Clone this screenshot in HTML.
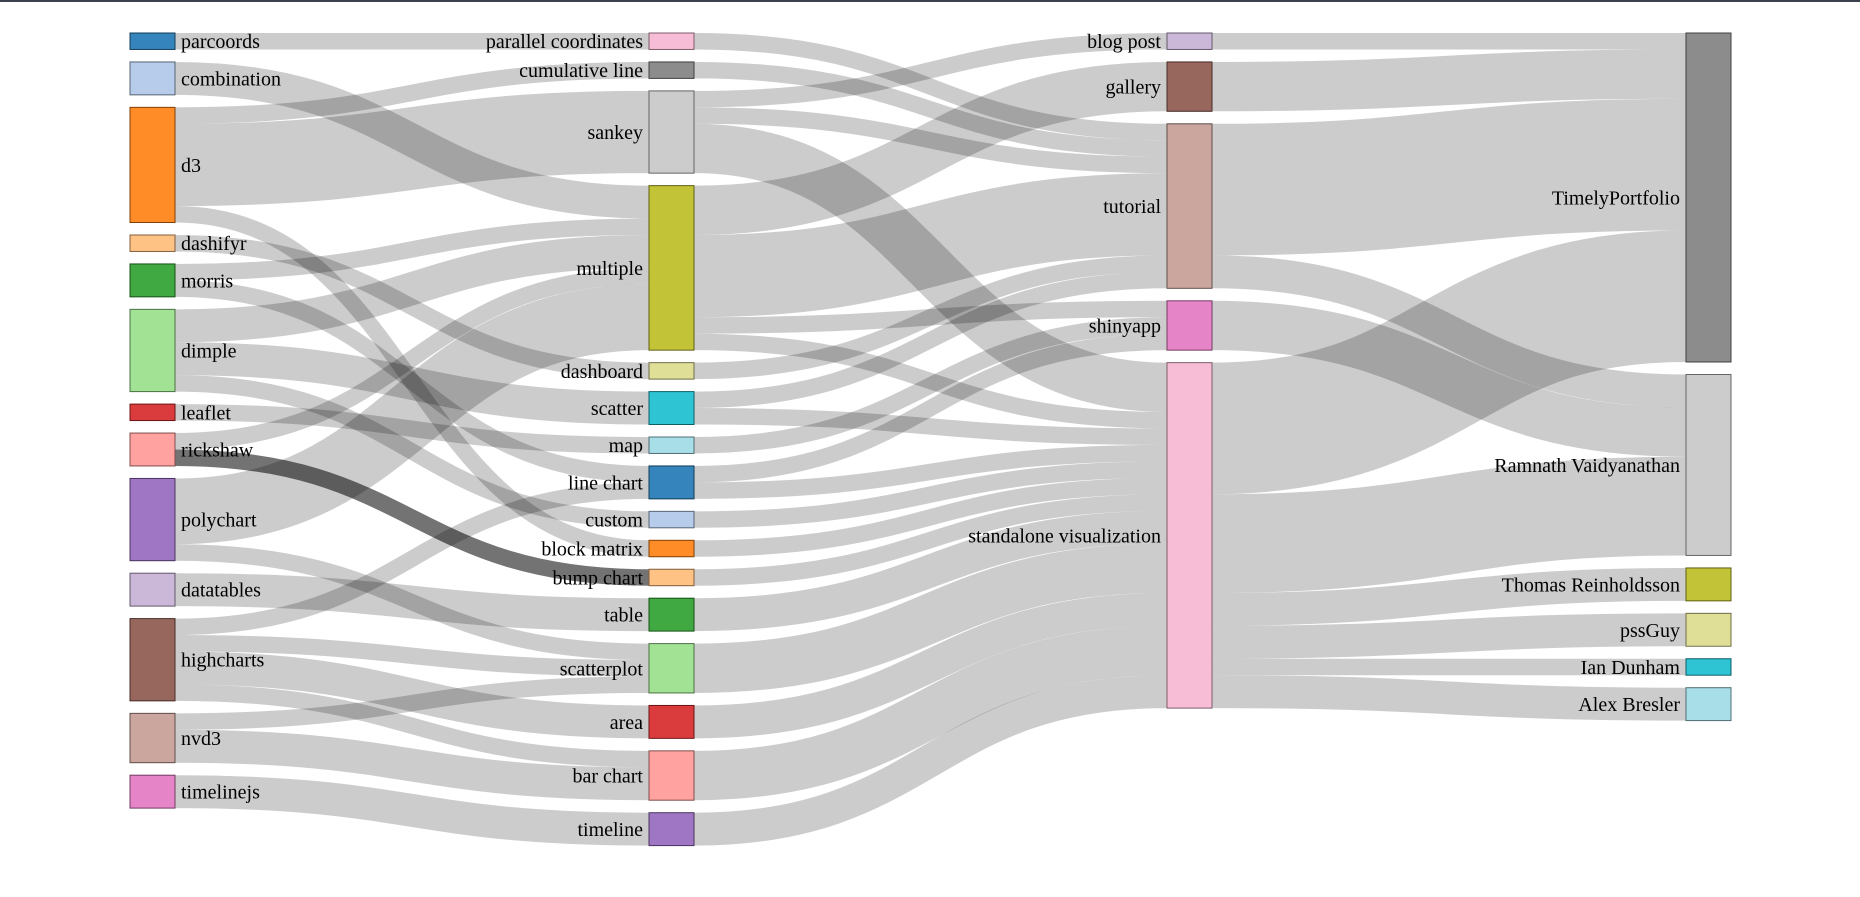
<!DOCTYPE html>
<html><head><meta charset="utf-8">
<style>
html,body{margin:0;padding:0;background:#fff;}
body{width:1860px;height:892px;overflow:hidden;border-top:2px solid #3c4150;box-sizing:border-box;}
svg text{font-family:"Liberation Serif",serif;font-size:20px;fill:#000;}
</style></head>
<body>
<svg id="chart" width="1860" height="890" viewBox="0 2 1860 890"></svg>
<script>
const nodeNames = [
 ["parcoords","combination","d3","dashifyr","morris","dimple","leaflet","rickshaw","polychart","datatables","highcharts","nvd3","timelinejs"],
 ["parallel coordinates","cumulative line","sankey","multiple","dashboard","scatter","map","line chart","custom","block matrix","bump chart","table","scatterplot","area","bar chart","timeline"],
 ["blog post","gallery","tutorial","shinyapp","standalone visualization"],
 ["TimelyPortfolio","Ramnath Vaidyanathan","Thomas Reinholdsson","pssGuy","Ian Dunham","Alex Bresler"]
];
const nodeColors = ["#1f77b4","#aec7e8","#ff7f0e","#ffbb78","#2ca02c","#98df8a","#d62728","#ff9896","#9467bd","#c5b0d5","#8c564b","#c49c94","#e377c2","#f7b6d2","#7f7f7f","#c7c7c7","#bcbd22","#dbdb8d","#17becf","#9edae5"];
const linkSources = ["parcoords","combination","d3","d3","d3","dashifyr","morris","morris","dimple","dimple","dimple","leaflet","rickshaw","rickshaw","polychart","polychart","datatables","highcharts","highcharts","highcharts","highcharts","nvd3","nvd3","timelinejs",
 "parallel coordinates","cumulative line","sankey","sankey","sankey","multiple","multiple","multiple","multiple","dashboard","scatter","scatter","map","line chart","line chart","custom","block matrix","bump chart","table","scatterplot","area","bar chart","timeline",
 "blog post","gallery","tutorial","tutorial","shinyapp","standalone visualization","standalone visualization","standalone visualization","standalone visualization","standalone visualization","standalone visualization"];
const linkTargets = ["parallel coordinates","multiple","cumulative line","sankey","block matrix","dashboard","multiple","line chart","multiple","scatter","custom","map","multiple","bump chart","multiple","scatterplot","table","line chart","scatterplot","area","bar chart","scatterplot","bar chart","timeline",
 "tutorial","tutorial","blog post","tutorial","standalone visualization","gallery","tutorial","shinyapp","standalone visualization","tutorial","tutorial","standalone visualization","shinyapp","shinyapp","standalone visualization","standalone visualization","standalone visualization","standalone visualization","standalone visualization","standalone visualization","standalone visualization","standalone visualization","standalone visualization",
 "TimelyPortfolio","TimelyPortfolio","TimelyPortfolio","Ramnath Vaidyanathan","Ramnath Vaidyanathan","TimelyPortfolio","Ramnath Vaidyanathan","Thomas Reinholdsson","pssGuy","Ian Dunham","Alex Bresler"];
const linkValues = [1,2,1,5,1,1,1,1,2,2,1,1,1,1,4,1,2,1,1,2,1,1,2,2,
 1,1,1,1,3,3,5,1,1,1,1,1,1,1,1,1,1,1,2,3,2,3,2,
 1,3,8,2,3,8,6,2,2,1,2];

const NS="http://www.w3.org/2000/svg";
const svg=document.getElementById('chart');
const colX=[130,649,1167,1686], NW=45, K=16.45, PAD=12.5, TOP=33;
const nodes={};let ci=0;
nodeNames.forEach((col,c)=>col.forEach(n=>{nodes[n]={name:n,col:c,color:nodeColors[ci%20],src:[],tgt:[]};ci++;}));
const links=linkSources.map((s,i)=>({s:nodes[s],t:nodes[linkTargets[i]],v:linkValues[i]}));
links.forEach(l=>{l.s.src.push(l);l.t.tgt.push(l);});
Object.values(nodes).forEach(n=>{n.value=Math.max(n.src.reduce((a,l)=>a+l.v,0),n.tgt.reduce((a,l)=>a+l.v,0));});
nodeNames.forEach((col,c)=>{let y=TOP;col.forEach(nm=>{const n=nodes[nm];n.x=colX[c];n.y=y;n.h=n.value*K;y+=n.h+PAD;});});
Object.values(nodes).forEach(n=>{
 n.src.sort((a,b)=>a.t.y-b.t.y);let y=n.y;n.src.forEach(l=>{l.sy=y;y+=l.v*K;});
 n.tgt.sort((a,b)=>a.s.y-b.s.y);y=n.y;n.tgt.forEach(l=>{l.ty=y;y+=l.v*K;});
});
const gL=document.createElementNS(NS,'g');


svg.appendChild(gL);
links.forEach(l=>{
 const w=l.v*K,x0=l.s.x+NW,x1=l.t.x,y0=l.sy+w/2,y1=l.ty+w/2,xm=(x0+x1)/2;
 const p=document.createElementNS(NS,'path');
 p.setAttribute('d',`M${x0},${y0}C${xm},${y0} ${xm},${y1} ${x1},${y1}`);
 p.setAttribute('fill','none');p.setAttribute('stroke','#000');
 p.setAttribute('stroke-opacity',(l.s.name==='rickshaw'&&l.t.name==='bump chart')?0.55:0.2);
 p.setAttribute('stroke-width',w);
 
 
 gL.appendChild(p);
});
function darker(hex){const v=parseInt(hex.slice(1),16);const f=x=>Math.round(x*0.5);return `rgb(${f(v>>16)},${f((v>>8)&255)},${f(v&255)})`;}
Object.values(nodes).forEach(n=>{
 const g=document.createElementNS(NS,'g');
 
 
 const r=document.createElementNS(NS,'rect');
 r.setAttribute('x',n.x);r.setAttribute('y',n.y);r.setAttribute('width',NW);r.setAttribute('height',n.h);
 r.setAttribute('fill',n.color);r.setAttribute('fill-opacity',0.9);r.setAttribute('stroke',darker(n.color));r.setAttribute('stroke-width',1);
 
 
 g.appendChild(r);
 const t=document.createElementNS(NS,'text');
 t.setAttribute('y',n.y+n.h/2);t.setAttribute('dy','0.35em');
 if(n.col===0){t.setAttribute('x',n.x+NW+6);}else{t.setAttribute('x',n.x-6);t.setAttribute('text-anchor','end');}
 t.textContent=n.name;
 
 
 g.appendChild(t);
 svg.appendChild(g);
});
</script>
</body></html>
